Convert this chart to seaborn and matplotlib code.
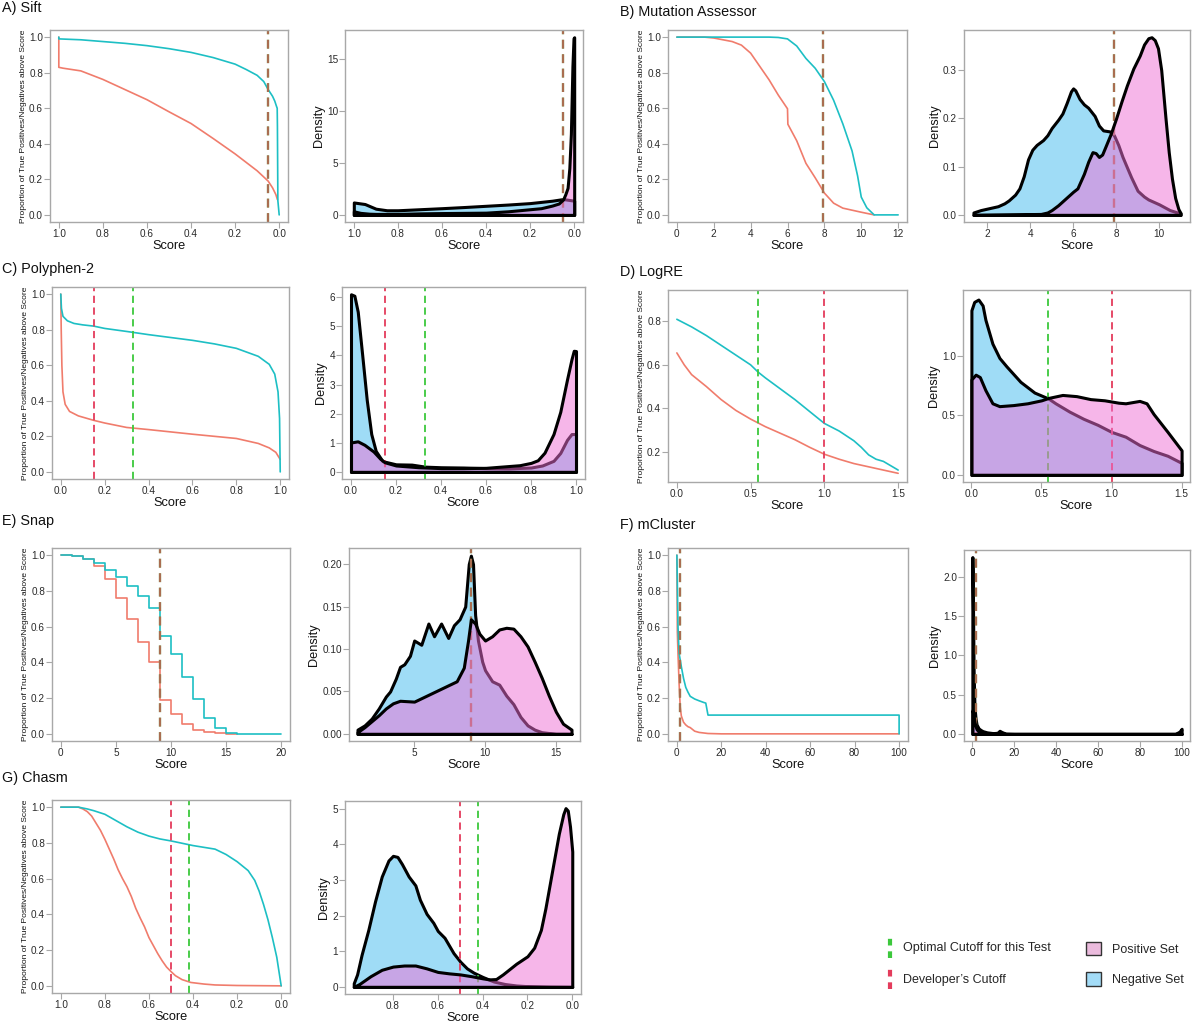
import numpy as np
import pandas as pd
import matplotlib
matplotlib.use("Agg")
import matplotlib.pyplot as plt
import seaborn as sns
from matplotlib.lines import Line2D
from matplotlib.patches import Patch
from matplotlib.legend_handler import HandlerBase

sns.set_theme(style="white")
plt.rcParams['font.family'] = ['Liberation Sans', 'DejaVu Sans']

# ---------------- colours ----------------
POS_LINE = "#1DBFC4"
NEG_LINE = "#F07C6C"
NEG_FILL = "#9FDCF6"
POS_FILL = (239/255, 111/255, 213/255, 0.5)
OPT_C = "#3CC83C"
DEV_C = "#E43C5C"
SPINE_C = "#A8A8A8"

# ---------------- data ----------------
titles = ["A) Sift", "B) Mutation Assessor", "C) Polyphen-2", "D) LogRE",
          "E) Snap", "F) mCluster", "G) Chasm"]

# A) Sift
A_pos_x = [1.0, 1.0, 0.9, 0.8, 0.7, 0.6, 0.5, 0.4, 0.3, 0.2, 0.15, 0.1, 0.07, 0.05, 0.03, 0.02, 0.012, 0.009, 0.008, 0.006, 0.0]
A_pos_y = [1.0, 0.99, 0.985, 0.975, 0.965, 0.952, 0.935, 0.914, 0.885, 0.848, 0.818, 0.785, 0.75, 0.705, 0.667, 0.64, 0.61, 0.60, 0.50, 0.08, 0.0]
A_neg_x = [1.0, 1.0, 0.98, 0.9, 0.8, 0.7, 0.6, 0.5, 0.4, 0.3, 0.2, 0.1, 0.05, 0.03, 0.015, 0.008]
A_neg_y = [1.0, 0.83, 0.825, 0.81, 0.762, 0.705, 0.648, 0.58, 0.514, 0.43, 0.343, 0.248, 0.19, 0.152, 0.114, 0.086]
A_dneg_x = [1.0, 0.95, 0.9, 0.85, 0.8, 0.7, 0.6, 0.5, 0.4, 0.3, 0.2, 0.1, 0.05, 0.0]
A_dneg_y = [1.2, 1.05, 0.6, 0.45, 0.45, 0.55, 0.65, 0.76, 0.88, 1.0, 1.14, 1.37, 1.53, 1.37]
A_dpos_x = [1.0, 0.97, 0.93, 0.9, 0.8, 0.7, 0.6, 0.5, 0.4, 0.3, 0.2, 0.15, 0.12, 0.1, 0.07, 0.05, 0.04, 0.03, 0.022, 0.015, 0.008, 0.003, 0.0]
A_dpos_y = [0.35, 0.2, 0.12, 0.1, 0.1, 0.15, 0.18, 0.2, 0.22, 0.35, 0.55, 0.65, 0.8, 0.9, 1.1, 1.5, 2.0, 2.6, 4.5, 7.8, 14.3, 17.0, 17.1]
A_opt, A_dev = 0.05, 0.05

# B) Mutation Assessor
B_pos_x = [0, 2, 4, 5.0, 5.5, 6.0, 6.5, 7.0, 7.5, 8.0, 8.5, 9.0, 9.5, 9.8, 10.0, 10.3, 10.7, 12]
B_pos_y = [1.0, 1.0, 1.0, 1.0, 0.998, 0.99, 0.95, 0.88, 0.825, 0.75, 0.645, 0.512, 0.36, 0.22, 0.1, 0.04, 0.0, 0.0]
B_neg_x = [0, 1.5, 2, 3, 3.5, 4, 4.5, 5, 5.5, 6.0, 6.02, 6.5, 7, 7.5, 8, 8.5, 9, 10, 10.7]
B_neg_y = [1.0, 1.0, 0.995, 0.975, 0.955, 0.91, 0.835, 0.76, 0.674, 0.597, 0.51, 0.417, 0.29, 0.209, 0.123, 0.066, 0.038, 0.015, 0.0]
B_dneg_x = [1.36, 1.7, 2.0, 2.5, 2.8, 3.0, 3.3, 3.5, 3.7, 3.9, 4.1, 4.3, 4.6, 4.8, 5.0, 5.3, 5.5, 5.7, 5.9, 6.0, 6.1, 6.3, 6.5, 6.7, 7.0, 7.2, 7.4, 7.7, 7.9, 8.1, 8.3, 8.5, 8.7, 9.0, 9.3, 9.5, 10.0, 10.5, 11.0]
B_dneg_y = [0.005, 0.01, 0.013, 0.018, 0.024, 0.03, 0.042, 0.055, 0.08, 0.115, 0.135, 0.145, 0.155, 0.165, 0.18, 0.197, 0.21, 0.232, 0.256, 0.262, 0.258, 0.24, 0.229, 0.222, 0.205, 0.185, 0.175, 0.173, 0.165, 0.145, 0.12, 0.099, 0.078, 0.05, 0.038, 0.032, 0.022, 0.01, 0.003]
B_dpos_x = [1.36, 4.5, 4.8, 5.0, 5.3, 5.5, 5.8, 6.0, 6.2, 6.5, 6.7, 6.9, 7.05, 7.2, 7.35, 7.5, 7.75, 8.0, 8.25, 8.5, 8.8, 9.1, 9.3, 9.5, 9.65, 9.8, 9.95, 10.1, 10.2, 10.3, 10.45, 10.6, 10.75, 10.9, 11.0]
B_dpos_y = [0.0, 0.002, 0.005, 0.01, 0.02, 0.028, 0.04, 0.048, 0.055, 0.085, 0.11, 0.13, 0.128, 0.12, 0.125, 0.141, 0.168, 0.2, 0.235, 0.268, 0.303, 0.33, 0.353, 0.366, 0.368, 0.362, 0.345, 0.3, 0.25, 0.2, 0.13, 0.075, 0.035, 0.012, 0.004]
B_opt, B_dev = 7.9, 7.9

# C) Polyphen-2
C_pos_x = [0, 0.003, 0.01, 0.03, 0.06, 0.1, 0.15, 0.2, 0.3, 0.4, 0.5, 0.6, 0.7, 0.8, 0.9, 0.95, 0.975, 0.99, 0.997, 1.0]
C_pos_y = [1.0, 0.92, 0.875, 0.85, 0.835, 0.827, 0.82, 0.807, 0.79, 0.772, 0.756, 0.74, 0.72, 0.695, 0.65, 0.605, 0.55, 0.45, 0.3, 0.0]
C_neg_x = [0, 0.002, 0.005, 0.01, 0.02, 0.04, 0.08, 0.15, 0.2, 0.3, 0.4, 0.5, 0.6, 0.7, 0.8, 0.9, 0.95, 0.98, 0.995, 1.0]
C_neg_y = [1.0, 0.8, 0.6, 0.45, 0.38, 0.34, 0.315, 0.29, 0.275, 0.25, 0.238, 0.225, 0.212, 0.2, 0.188, 0.16, 0.135, 0.11, 0.08, 0.07]
C_dneg_x = [0.0, 0.015, 0.03, 0.05, 0.07, 0.09, 0.11, 0.14, 0.2, 0.27, 0.33, 0.4, 0.5, 0.6, 0.7, 0.8, 0.85, 0.9, 0.93, 0.96, 0.98, 1.0]
C_dneg_y = [6.1, 6.05, 5.5, 4.0, 2.47, 1.3, 0.72, 0.37, 0.26, 0.25, 0.18, 0.16, 0.15, 0.13, 0.12, 0.15, 0.22, 0.38, 0.65, 1.1, 1.3, 1.3]
C_dpos_x = [0.0, 0.03, 0.06, 0.1, 0.13, 0.15, 0.2, 0.3, 0.4, 0.5, 0.6, 0.7, 0.75, 0.8, 0.83, 0.86, 0.9, 0.93, 0.96, 0.98, 0.99, 1.0]
C_dpos_y = [1.01, 1.05, 0.93, 0.7, 0.45, 0.33, 0.22, 0.16, 0.13, 0.13, 0.14, 0.2, 0.23, 0.31, 0.4, 0.66, 1.3, 2.06, 3.17, 3.87, 4.16, 4.15]
C_opt, C_dev = 0.33, 0.15

# D) LogRE
D_pos_x = [0, 0.1, 0.2, 0.3, 0.4, 0.5, 0.55, 0.6, 0.7, 0.8, 0.9, 1.0, 1.1, 1.2, 1.25, 1.3, 1.35, 1.4, 1.5]
D_pos_y = [0.81, 0.775, 0.735, 0.69, 0.645, 0.6, 0.567, 0.54, 0.49, 0.44, 0.385, 0.33, 0.295, 0.25, 0.22, 0.185, 0.165, 0.155, 0.115]
D_neg_x = [0, 0.05, 0.1, 0.2, 0.3, 0.4, 0.5, 0.6, 0.7, 0.8, 0.9, 1.0, 1.1, 1.2, 1.3, 1.4, 1.5]
D_neg_y = [0.655, 0.6, 0.555, 0.5, 0.44, 0.39, 0.35, 0.315, 0.285, 0.255, 0.22, 0.188, 0.165, 0.145, 0.13, 0.115, 0.1]
D_dneg_x = [0.0, 0.02, 0.05, 0.08, 0.1, 0.15, 0.2, 0.25, 0.35, 0.45, 0.55, 0.6, 0.7, 0.8, 0.9, 1.0, 1.1, 1.2, 1.3, 1.4, 1.5]
D_dneg_y = [1.38, 1.45, 1.47, 1.42, 1.3, 1.1, 0.98, 0.91, 0.78, 0.69, 0.64, 0.6, 0.53, 0.47, 0.42, 0.36, 0.32, 0.25, 0.2, 0.16, 0.1]
D_dpos_x = [0.0, 0.03, 0.06, 0.1, 0.15, 0.2, 0.3, 0.4, 0.5, 0.55, 0.65, 0.75, 0.85, 0.95, 1.05, 1.1, 1.2, 1.25, 1.3, 1.4, 1.5]
D_dpos_y = [0.8, 0.84, 0.82, 0.71, 0.6, 0.576, 0.585, 0.6, 0.625, 0.645, 0.67, 0.66, 0.635, 0.625, 0.605, 0.6, 0.62, 0.6, 0.51, 0.36, 0.205]
D_opt, D_dev = 0.55, 1.0

# E) Snap (step curves, one value per integer score)
E_pos_x = [0, 1, 2, 3, 4, 5, 6, 7, 8, 9, 10, 11, 12, 13, 14, 15, 16, 17, 18, 19, 20]
E_pos_y = [1.0, 0.995, 0.98, 0.955, 0.915, 0.88, 0.83, 0.77, 0.705, 0.55, 0.445, 0.32, 0.195, 0.09, 0.035, 0.005, 0.0, 0.0, 0.0, 0.0, 0.0]
E_neg_x = [0, 1, 2, 3, 4, 5, 6, 7, 8, 9, 10, 11, 12, 13, 14, 15, 16]
E_neg_y = [1.0, 0.995, 0.98, 0.94, 0.865, 0.76, 0.64, 0.515, 0.40, 0.19, 0.11, 0.055, 0.02, 0.008, 0.003, 0.0, 0.0]
E_dneg_x = [1.0, 1.5, 2.0, 2.5, 3.0, 3.3, 3.7, 4.0, 4.3, 4.7, 5.0, 5.5, 6.0, 6.4, 6.9, 7.4, 7.8, 8.2, 8.6, 8.85, 9.0, 9.15, 9.3, 9.5, 9.8, 10.0, 10.5, 11.0, 11.5, 12.0, 12.5, 13.0, 13.5, 14.0, 15.0, 16.1]
E_dneg_y = [0.005, 0.01, 0.018, 0.03, 0.044, 0.05, 0.065, 0.079, 0.082, 0.092, 0.11, 0.105, 0.13, 0.115, 0.13, 0.113, 0.128, 0.135, 0.15, 0.2, 0.21, 0.2, 0.14, 0.11, 0.085, 0.075, 0.062, 0.058, 0.045, 0.035, 0.02, 0.01, 0.005, 0.002, 0.0, 0.0]
E_dpos_x = [1.0, 1.5, 2.0, 2.5, 3.0, 3.5, 4.0, 5.0, 6.0, 7.0, 8.0, 8.5, 8.8, 9.0, 9.3, 9.6, 10.0, 10.5, 11.0, 11.5, 12.0, 12.5, 13.0, 13.5, 14.0, 14.5, 15.0, 15.5, 16.1]
E_dpos_y = [0.002, 0.008, 0.015, 0.022, 0.03, 0.036, 0.039, 0.038, 0.046, 0.054, 0.062, 0.078, 0.11, 0.135, 0.13, 0.118, 0.11, 0.115, 0.123, 0.125, 0.124, 0.115, 0.103, 0.085, 0.066, 0.045, 0.026, 0.012, 0.005]
E_opt, E_dev = 9.0, 9.0

# F) mCluster
F_pos_x = [0, 0.5, 1, 2, 3, 4, 5, 6, 8, 10, 12, 13, 14, 100, 100]
F_pos_y = [1.0, 0.6, 0.45, 0.376, 0.31, 0.26, 0.233, 0.21, 0.195, 0.185, 0.176, 0.172, 0.105, 0.105, 0.0]
F_neg_x = [0, 0.2, 0.5, 1, 1.5, 2, 3, 4, 5, 6, 7, 8, 10, 14, 20, 100]
F_neg_y = [1.0, 0.57, 0.45, 0.28, 0.15, 0.1, 0.065, 0.05, 0.04, 0.035, 0.025, 0.015, 0.008, 0.002, 0.0, 0.0]
F_dneg_x = [0, 0.3, 0.6, 1, 1.5, 2, 3, 4, 5, 7, 10, 12, 13, 14, 16, 20, 97, 99, 100]
F_dneg_y = [2.25, 1.6, 0.8, 0.35, 0.2, 0.12, 0.07, 0.05, 0.035, 0.02, 0.01, 0.015, 0.04, 0.025, 0.003, 0.0, 0.0, 0.03, 0.065]
F_dpos_x = [0, 0.5, 1, 1.5, 2, 3, 5, 8, 100]
F_dpos_y = [0.3, 0.25, 0.15, 0.1, 0.06, 0.03, 0.01, 0.0, 0.0]
F_opt, F_dev = 1.5, 1.5

# G) Chasm
G_pos_x = [1.0, 0.92, 0.88, 0.85, 0.8, 0.75, 0.7, 0.65, 0.6, 0.55, 0.5, 0.45, 0.4, 0.35, 0.3, 0.25, 0.2, 0.15, 0.12, 0.1, 0.08, 0.06, 0.04, 0.02, 0.01, 0.0]
G_pos_y = [1.0, 1.0, 0.99, 0.98, 0.96, 0.925, 0.89, 0.86, 0.838, 0.822, 0.811, 0.798, 0.785, 0.775, 0.765, 0.735, 0.695, 0.645, 0.59, 0.53, 0.455, 0.37, 0.27, 0.16, 0.08, 0.0]
G_neg_x = [1.0, 0.92, 0.9, 0.88, 0.86, 0.84, 0.82, 0.8, 0.78, 0.76, 0.74, 0.72, 0.7, 0.68, 0.66, 0.64, 0.62, 0.6, 0.58, 0.56, 0.54, 0.52, 0.5, 0.48, 0.45, 0.41, 0.35, 0.3, 0.2, 0.0]
G_neg_y = [1.0, 1.0, 0.99, 0.975, 0.95, 0.91, 0.87, 0.82, 0.765, 0.71, 0.65, 0.6, 0.555, 0.5, 0.434, 0.38, 0.33, 0.27, 0.225, 0.18, 0.14, 0.105, 0.08, 0.057, 0.035, 0.019, 0.01, 0.005, 0.002, 0.0]
G_dneg_x = [0.975, 0.96, 0.94, 0.91, 0.88, 0.85, 0.82, 0.8, 0.78, 0.76, 0.73, 0.7, 0.68, 0.65, 0.62, 0.6, 0.57, 0.53, 0.5, 0.47, 0.44, 0.4, 0.35, 0.3, 0.25, 0.2, 0.1, 0.0]
G_dneg_y = [0.1, 0.35, 0.9, 1.6, 2.4, 3.1, 3.55, 3.68, 3.65, 3.45, 3.1, 2.85, 2.45, 2.05, 1.8, 1.57, 1.38, 0.95, 0.71, 0.52, 0.4, 0.28, 0.15, 0.08, 0.04, 0.02, 0.005, 0.0]
G_dpos_x = [0.975, 0.95, 0.9, 0.85, 0.8, 0.75, 0.7, 0.65, 0.6, 0.55, 0.5, 0.45, 0.4, 0.37, 0.34, 0.31, 0.28, 0.25, 0.2, 0.17, 0.14, 0.12, 0.1, 0.08, 0.06, 0.04, 0.03, 0.02, 0.01, 0.0]
G_dpos_y = [0.0, 0.08, 0.3, 0.48, 0.57, 0.6, 0.6, 0.52, 0.42, 0.38, 0.35, 0.3, 0.24, 0.21, 0.22, 0.35, 0.5, 0.65, 0.86, 1.1, 1.6, 2.2, 2.9, 3.6, 4.3, 4.85, 5.02, 4.95, 4.5, 3.8]
G_opt, G_dev = 0.42, 0.5

# ---------------- figure ----------------
W, H = 1200, 1024
fig = plt.figure(figsize=(W / 100, H / 100), dpi=100)
fig.patch.set_facecolor("white")


def place(x0, y0, x1, y1):
    return fig.add_axes([x0 / W, 1 - y1 / H, (x1 - x0) / W, (y1 - y0) / H])


def style(ax, xlim, ylim, xticks, xlabels, yticks, ylabels, ylabel, ylab_size):
    ax.set_facecolor("white")
    for s in ax.spines.values():
        s.set_visible(True)
        s.set_color(SPINE_C)
        s.set_linewidth(1.0)
    ax.set_xlim(*xlim)
    ax.set_ylim(*ylim)
    ax.set_xticks(xticks)
    ax.set_xticklabels(xlabels)
    ax.set_yticks(yticks)
    ax.set_yticklabels(ylabels)
    ax.tick_params(axis="both", which="major", direction="out", length=4, width=0.8,
                   color=SPINE_C, labelsize=7.2, labelcolor="#2a2a2a", pad=1.0,
                   bottom=True, left=True)
    ax.grid(False)
    ax.set_xlabel("Score", fontsize=9.2, color="#111111", labelpad=1.0)
    ax.set_ylabel(ylabel, fontsize=ylab_size, color="#111111", labelpad=1.5)


def cutoffs(ax, opt, dev):
    if opt == dev:
        ax.axvline(opt, color=OPT_C, ls=(0, (4, 2.5)), lw=1.6)
        ax.axvline(dev, color=DEV_C, ls=(0, (4, 2.5)), lw=1.6, alpha=0.65)
    else:
        ax.axvline(opt, color=OPT_C, ls=(0, (4, 2.5)), lw=1.3)
        ax.axvline(dev, color=DEV_C, ls=(0, (4, 2.5)), lw=1.3)


def surv_panel(box, px, py, nx, ny, opt, dev, xlim, ylim, xticks, xlabels, yticks, ylabels, steps=False):
    ax = place(*box)
    ds = "steps-post" if steps else "default"
    sns.lineplot(x=nx, y=ny, ax=ax, color=NEG_LINE, lw=1.2, sort=False, estimator=None, drawstyle=ds)
    sns.lineplot(x=px, y=py, ax=ax, color=POS_LINE, lw=1.2, sort=False, estimator=None, drawstyle=ds)
    cutoffs(ax, opt, dev)
    style(ax, xlim, ylim, xticks, xlabels, yticks, ylabels,
          "Proportion of True Positives/Negatives above Score", 6.0)
    return ax


def dens_panel(box, nx, ny, px, py, opt, dev, xlim, ylim, xticks, xlabels, yticks, ylabels):
    ax = place(*box)
    ax.fill_between(nx, 0, ny, facecolor=NEG_FILL, edgecolor="black", linewidth=2.2,
                    joinstyle="round", zorder=2)
    ax.fill_between(px, 0, py, facecolor=POS_FILL, edgecolor="black", linewidth=2.2,
                    joinstyle="round", zorder=3)
    cutoffs(ax, opt, dev)
    style(ax, xlim, ylim, xticks, xlabels, yticks, ylabels, "Density", 9.2)
    return ax


unit = [0.0, 0.2, 0.4, 0.6, 0.8, 1.0]
unit_lab = ["0.0", "0.2", "0.4", "0.6", "0.8", "1.0"]
unit_r = [1.0, 0.8, 0.6, 0.4, 0.2, 0.0]
unit_r_lab = ["1.0", "0.8", "0.6", "0.4", "0.2", "0.0"]
SY = (-0.04, 1.04)

# A
surv_panel((50, 30, 288, 222), A_pos_x, A_pos_y, A_neg_x, A_neg_y, A_opt, A_dev,
           (1.04, -0.04), SY, unit_r, unit_r_lab, unit, unit_lab)
dens_panel((345, 30, 583, 222), A_dneg_x, A_dneg_y, A_dpos_x, A_dpos_y, A_opt, A_dev,
           (1.04, -0.04), (-0.68, 17.8), unit_r, unit_r_lab, [0, 5, 10, 15], ["0", "5", "10", "15"])
# B
surv_panel((668, 30, 907, 222), B_pos_x, B_pos_y, B_neg_x, B_neg_y, B_opt, B_dev,
           (-0.48, 12.48), SY, [0, 2, 4, 6, 8, 10, 12], ["0", "2", "4", "6", "8", "10", "12"], unit, unit_lab)
dens_panel((964, 30, 1190, 222), B_dneg_x, B_dneg_y, B_dpos_x, B_dpos_y, B_opt, B_dev,
           (0.92, 11.44), (-0.0147, 0.383), [2, 4, 6, 8, 10], ["2", "4", "6", "8", "10"],
           [0.0, 0.1, 0.2, 0.3], ["0.0", "0.1", "0.2", "0.3"])
# C
surv_panel((52, 287, 289, 479), C_pos_x, C_pos_y, C_neg_x, C_neg_y, C_opt, C_dev,
           (-0.04, 1.04), SY, unit, unit_lab, unit, unit_lab)
dens_panel((342, 287, 585, 479), C_dneg_x, C_dneg_y, C_dpos_x, C_dpos_y, C_opt, C_dev,
           (-0.04, 1.04), (-0.244, 6.35), unit, unit_lab, [0, 1, 2, 3, 4, 5, 6],
           ["0", "1", "2", "3", "4", "5", "6"])
# D
surv_panel((668, 290, 907, 482), D_pos_x, D_pos_y, D_neg_x, D_neg_y, D_opt, D_dev,
           (-0.06, 1.56), (0.06, 0.945), [0.0, 0.5, 1.0, 1.5], ["0.0", "0.5", "1.0", "1.5"],
           [0.2, 0.4, 0.6, 0.8], ["0.2", "0.4", "0.6", "0.8"])
dens_panel((963, 290, 1190, 482), D_dneg_x, D_dneg_y, D_dpos_x, D_dpos_y, D_opt, D_dev,
           (-0.06, 1.56), (-0.06, 1.55), [0.0, 0.5, 1.0, 1.5], ["0.0", "0.5", "1.0", "1.5"],
           [0.0, 0.5, 1.0], ["0.0", "0.5", "1.0"])
# E
surv_panel((52, 548, 290, 741), E_pos_x, E_pos_y, E_neg_x, E_neg_y, E_opt, E_dev,
           (-0.8, 20.8), SY, [0, 5, 10, 15, 20], ["0", "5", "10", "15", "20"], unit, unit_lab, steps=True)
dens_panel((349, 548, 580, 741), E_dneg_x, E_dneg_y, E_dpos_x, E_dpos_y, E_opt, E_dev,
           (0.4, 16.7), (-0.0084, 0.219), [5, 10, 15], ["5", "10", "15"],
           [0.0, 0.05, 0.10, 0.15, 0.20], ["0.00", "0.05", "0.10", "0.15", "0.20"])
# F
surv_panel((668, 548, 908, 741), F_pos_x, F_pos_y, F_neg_x, F_neg_y, F_opt, F_dev,
           (-4, 104), SY, [0, 20, 40, 60, 80, 100], ["0", "20", "40", "60", "80", "100"], unit, unit_lab)
dens_panel((964, 550, 1190, 741), F_dneg_x, F_dneg_y, F_dpos_x, F_dpos_y, F_opt, F_dev,
           (-4, 104), (-0.09, 2.34), [0, 20, 40, 60, 80, 100], ["0", "20", "40", "60", "80", "100"],
           [0.0, 0.5, 1.0, 1.5, 2.0], ["0.0", "0.5", "1.0", "1.5", "2.0"])
# G
surv_panel((52, 800, 290, 993), G_pos_x, G_pos_y, G_neg_x, G_neg_y, G_opt, G_dev,
           (1.04, -0.04), SY, unit_r, unit_r_lab, unit, unit_lab)
dens_panel((345, 801, 581, 994), G_dneg_x, G_dneg_y, G_dpos_x, G_dpos_y, G_opt, G_dev,
           (1.014, -0.039), (-0.2, 5.22), [0.8, 0.6, 0.4, 0.2, 0.0], ["0.8", "0.6", "0.4", "0.2", "0.0"],
           [0, 1, 2, 3, 4, 5], ["0", "1", "2", "3", "4", "5"])

# panel titles
title_pos = [(2, 8), (620, 12), (2, 269), (620, 272), (2, 521), (620, 525), (2, 778)]
for t, (tx, ty) in zip(titles, title_pos):
    fig.text(tx / W, 1 - ty / H, t, fontsize=10.4, color="#111111", ha="left", va="center")


# ---------------- legends ----------------
class VLineHandler(HandlerBase):
    def create_artists(self, legend, orig_handle, xdescent, ydescent, width, height, fontsize, trans):
        xc = width / 2 - xdescent
        line = Line2D([xc, xc], [-ydescent - height * 0.75, height * 1.75 - ydescent],
                      color=orig_handle.get_color(), linestyle=(0, (1.6, 1.4)),
                      linewidth=orig_handle.get_linewidth(), transform=trans)
        return [line]


cut_handles = [Line2D([], [], color=OPT_C, lw=3.0),
               Line2D([], [], color=DEV_C, lw=3.0)]
leg1 = fig.legend(cut_handles, ["Optimal Cutoff for this Test", "Developer\u2019s Cutoff"],
                  handler_map={Line2D: VLineHandler()}, loc="center left",
                  bbox_to_anchor=(874 / W, 1 - 964 / H), frameon=False, fontsize=9,
                  handlelength=0.8, handletextpad=0.6, labelspacing=1.55)
set_handles = [Patch(facecolor="#EBBBDD", edgecolor="#333333", lw=1.0),
               Patch(facecolor="#A3DCF7", edgecolor="#333333", lw=1.0)]
leg2 = fig.legend(set_handles, ["Positive Set", "Negative Set"], loc="center left",
                  bbox_to_anchor=(1075 / W, 1 - 964 / H), frameon=False, fontsize=9,
                  handlelength=1.2, handleheight=1.25, handletextpad=0.9, labelspacing=1.35)

fig.savefig("out.png", dpi=100, facecolor="white")
